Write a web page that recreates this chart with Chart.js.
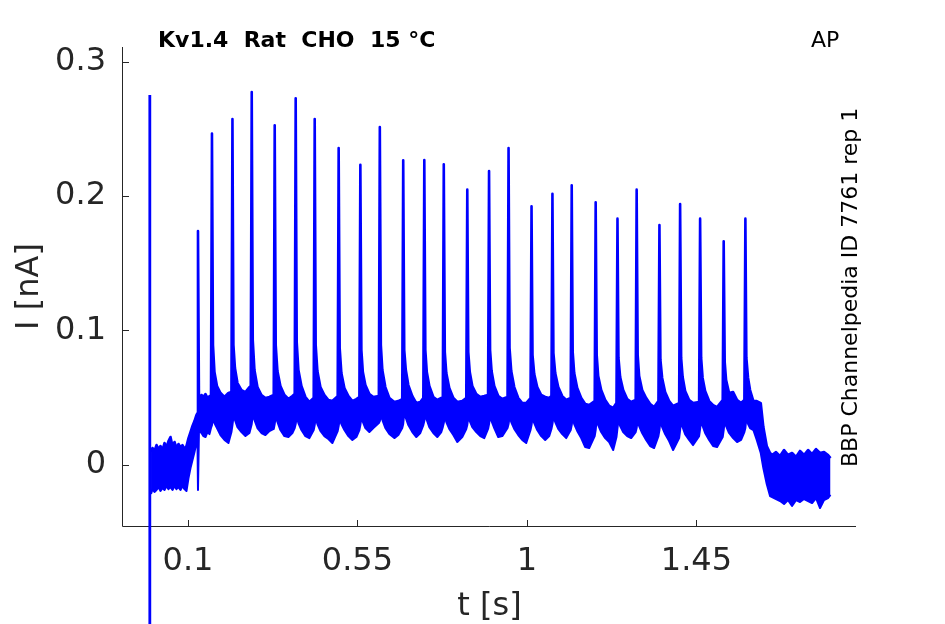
<!DOCTYPE html>
<html><head><meta charset="utf-8">
<script src="https://cdn.jsdelivr.net/npm/chart.js@4.4.1/dist/chart.umd.min.js"></script>
<style>html,body{margin:0;padding:0;background:#fff;} canvas{display:block;}</style>
</head><body>
<canvas id="c" width="945" height="624"></canvas>
<script>
// ---- data ----
const timeS = [
0.0019,0.0058,0.0111,0.0165,0.0218,0.0271,0.0324,0.0377,0.0430,0.0483,0.0536,0.0589,0.0642,0.0695,0.0748,0.0801,0.0854,0.0907,0.0960,
0.1014,0.1067,0.1120,0.1173,0.1226,0.1252,
0.1266,0.1292,0.1358,0.1412,0.1465,0.1518,0.1571,0.1611,
0.1637,0.1664,0.1703,0.1770,0.1863,0.1969,0.2075,0.2154,
0.2181,0.2207,0.2247,0.2314,0.2420,0.2526,0.2632,0.2666,
0.2693,0.2720,0.2765,0.2844,0.2950,0.3056,0.3163,0.3277,
0.3303,0.3330,0.3375,0.3454,0.3561,0.3667,0.3773,0.3834,
0.3860,0.3887,0.3932,0.4012,0.4118,0.4224,0.4338,
0.4365,0.4391,0.4436,0.4516,0.4622,0.4728,0.4834,0.4975,
0.5001,0.5028,0.5073,0.5153,0.5259,0.5365,0.5471,0.5551,
0.5577,0.5604,0.5643,0.5710,0.5816,0.5922,0.6068,
0.6094,0.6121,0.6161,0.6240,0.6346,0.6479,0.6585,0.6689,
0.6715,0.6742,0.6784,0.6851,0.6957,0.7063,0.7169,0.7249,
0.7275,0.7302,0.7341,0.7408,0.7514,0.7620,0.7726,0.7766,
0.7792,0.7819,0.7859,0.7938,0.8045,0.8151,0.8283,0.8389,
0.8416,0.8442,0.8482,0.8549,0.8655,0.8761,0.8867,0.8968,
0.8994,0.9021,0.9061,0.9132,0.9238,0.9345,0.9485,
0.9512,0.9538,0.9583,0.9663,0.9769,0.9875,0.9981,1.0095,
1.0122,1.0148,1.0194,1.0273,1.0379,1.0485,1.0592,1.0650,
1.0677,1.0703,1.0751,1.0831,1.0937,1.1043,1.1162,
1.1189,1.1215,1.1255,1.1335,1.1441,1.1547,1.1653,1.1799,
1.1825,1.1852,1.1892,1.1971,1.2077,1.2183,1.2290,1.2377,
1.2404,1.2430,1.2475,1.2555,1.2661,1.2767,1.2887,
1.2913,1.2940,1.2979,1.3059,1.3165,1.3271,1.3377,1.3491,
1.3518,1.3544,1.3590,1.3669,1.3775,1.3881,1.4041,
1.4067,1.4094,1.4134,1.4200,1.4306,1.4412,1.4571,
1.4598,1.4625,1.4664,1.4731,1.4837,1.4943,1.5049,1.5198,
1.5224,1.5251,1.5288,1.5367,1.5474,1.5580,1.5686,1.5773,
1.5800,1.5826,1.5871,1.5924,1.6012,1.6102,1.6208,1.6277,1.6367,1.6455,
1.6508,1.6614,1.6721,1.6827,1.6933,1.7039,1.7145,1.7251,1.7357,1.7464,1.7570,1.7676,1.7782,1.7888,1.7994,1.8060
];
// upper edge of the noisy current trace (nA)
const upperNA = [
0.0093,0.0123,0.0101,0.0145,0.0115,0.0138,0.0108,0.0160,0.0130,0.0175,0.0205,0.0138,0.0168,0.0123,0.0153,0.0130,0.0145,0.0115,0.0138,
0.0197,0.0242,0.0287,0.0324,0.0369,0.0384,
0.1740,0.0481,0.0518,0.0503,0.0525,0.0496,0.0510,0.0488,
0.2466,0.0890,0.0689,0.0585,0.0533,0.0503,0.0533,0.0540,
0.2575,0.0890,0.0719,0.0607,0.0555,0.0540,0.0577,0.0540,
0.2776,0.0928,0.0704,0.0577,0.0518,0.0496,0.0503,0.0518,
0.2528,0.0890,0.0697,0.0585,0.0518,0.0488,0.0510,0.0525,
0.2729,0.0913,0.0704,0.0585,0.0503,0.0466,0.0496,
0.2575,0.0890,0.0697,0.0577,0.0518,0.0481,0.0473,0.0510,
0.2358,0.0868,0.0682,0.0570,0.0510,0.0473,0.0488,0.0503,
0.2234,0.0853,0.0689,0.0592,0.0525,0.0503,0.0510,
0.2515,0.0890,0.0704,0.0577,0.0496,0.0466,0.0473,0.0488,
0.2267,0.0853,0.0704,0.0592,0.0510,0.0458,0.0466,0.0496,
0.2269,0.0853,0.0689,0.0585,0.0503,0.0481,0.0496,0.0488,
0.2237,0.0838,0.0682,0.0570,0.0496,0.0466,0.0473,0.0496,
0.2048,0.0838,0.0689,0.0585,0.0525,0.0503,0.0510,0.0518,
0.2187,0.0853,0.0697,0.0585,0.0510,0.0488,0.0503,
0.2358,0.0868,0.0697,0.0577,0.0496,0.0458,0.0458,0.0496,
0.1924,0.0816,0.0674,0.0577,0.0518,0.0503,0.0496,0.0510,
0.2018,0.0831,0.0682,0.0577,0.0510,0.0481,0.0496,
0.2080,0.0838,0.0682,0.0570,0.0496,0.0451,0.0443,0.0473,
0.1954,0.0816,0.0659,0.0555,0.0481,0.0436,0.0421,0.0458,
0.1832,0.0794,0.0652,0.0555,0.0488,0.0466,0.0481,
0.2048,0.0816,0.0659,0.0555,0.0496,0.0451,0.0428,0.0473,
0.1785,0.0779,0.0645,0.0540,0.0473,0.0436,0.0458,
0.1941,0.0794,0.0652,0.0548,0.0481,0.0458,0.0466,
0.1832,0.0794,0.0645,0.0548,0.0473,0.0443,0.0428,0.0481,
0.1663,0.0764,0.0630,0.0533,0.0540,0.0481,0.0458,0.0481,
0.1832,0.0794,0.0645,0.0555,0.0473,0.0473,0.0458,0.0279,0.0138,0.0086,
0.0071,0.0093,0.0063,0.0108,0.0071,0.0086,0.0056,0.0101,0.0071,0.0108,0.0078,0.0115,0.0086,0.0093,0.0071,0.0048
];
// lower edge of the noisy current trace (nA)
const lowerNA = [
-0.0220,-0.0183,-0.0205,-0.0190,-0.0168,-0.0197,-0.0175,-0.0190,-0.0160,-0.0183,-0.0168,-0.0190,-0.0160,-0.0183,-0.0168,-0.0190,-0.0160,-0.0183,-0.0197,
-0.0101,-0.0026,0.0034,0.0093,0.0160,0.0197,
-0.0190,0.0257,0.0235,0.0212,0.0205,0.0242,0.0227,0.0272,
0.0294,0.0347,0.0309,0.0272,0.0220,0.0183,0.0160,0.0242,
0.0294,0.0354,0.0332,0.0279,0.0242,0.0212,0.0235,0.0272,
0.0302,0.0369,0.0332,0.0272,0.0235,0.0220,0.0250,0.0265,
0.0302,0.0361,0.0317,0.0257,0.0212,0.0205,0.0235,0.0272,
0.0302,0.0354,0.0309,0.0257,0.0212,0.0197,0.0257,
0.0294,0.0347,0.0302,0.0250,0.0212,0.0190,0.0160,0.0250,
0.0287,0.0339,0.0302,0.0257,0.0212,0.0183,0.0205,0.0257,
0.0294,0.0347,0.0317,0.0272,0.0242,0.0272,0.0309,
0.0324,0.0369,0.0332,0.0272,0.0227,0.0197,0.0220,0.0272,
0.0302,0.0384,0.0347,0.0294,0.0242,0.0205,0.0235,0.0294,
0.0324,0.0376,0.0332,0.0279,0.0235,0.0205,0.0242,0.0279,
0.0309,0.0361,0.0317,0.0265,0.0220,0.0168,0.0205,0.0265,
0.0294,0.0354,0.0324,0.0279,0.0242,0.0212,0.0197,0.0265,
0.0302,0.0361,0.0324,0.0272,0.0205,0.0212,0.0272,
0.0302,0.0354,0.0317,0.0265,0.0220,0.0183,0.0160,0.0257,
0.0294,0.0347,0.0309,0.0257,0.0212,0.0183,0.0212,0.0265,
0.0302,0.0354,0.0317,0.0265,0.0227,0.0197,0.0257,
0.0294,0.0347,0.0302,0.0250,0.0197,0.0130,0.0123,0.0212,
0.0257,0.0339,0.0294,0.0242,0.0197,0.0168,0.0108,0.0205,
0.0272,0.0332,0.0287,0.0242,0.0212,0.0197,0.0242,
0.0272,0.0332,0.0287,0.0235,0.0183,0.0138,0.0123,0.0212,
0.0257,0.0324,0.0279,0.0227,0.0175,0.0108,0.0197,
0.0257,0.0324,0.0279,0.0227,0.0183,0.0145,0.0212,
0.0265,0.0332,0.0287,0.0235,0.0183,0.0138,0.0130,0.0205,
0.0257,0.0332,0.0287,0.0235,0.0197,0.0168,0.0183,0.0242,
0.0272,0.0347,0.0302,0.0272,0.0257,0.0183,0.0086,-0.0026,-0.0145,-0.0235,
-0.0242,-0.0257,-0.0272,-0.0294,-0.0265,-0.0309,-0.0265,-0.0279,-0.0257,-0.0272,-0.0287,-0.0250,-0.0324,-0.0265,-0.0250,-0.0227
];
// stimulus artefact at the start of the sweep
const artifactTimeS = [-0.0013, -0.0013];
const artifactNA = [0.2753, -0.2];

const xTickValues = [0.1, 0.55, 1, 1.45];
const xTickLabels = ['0.1', '0.55', '1', '1.45'];
const yTickValues = [0, 0.1, 0.2, 0.3];
const yTickLabels = ['0', '0.1', '0.2', '0.3'];
const xRange = [-0.0725, 1.8737];
const yRange = [-0.0458, 0.3111];

const titleText = 'Kv1.4  Rat  CHO  15 \u00B0C';
const cornerText = 'AP';
const sideText = 'BBP Channelpedia ID 7761 rep 1';
const xTitle = 't [s]';
const yTitle = 'I [nA]';

// ---- styling ----
const TRACE = '#0000ff';
const AXIS = '#262626';
const FONT = '"DejaVu Sans", "Liberation Sans", sans-serif';
Chart.defaults.font.family = FONT;

if (timeS.length !== upperNA.length || timeS.length !== lowerNA.length) {
  console.error('length mismatch', timeS.length, upperNA.length, lowerNA.length);
}

const upperPts = timeS.map((t, i) => ({x: t, y: upperNA[i]}));
const lowerPts = timeS.map((t, i) => ({x: t, y: lowerNA[i]}));
const artPts = artifactTimeS.map((t, i) => ({x: t, y: artifactNA[i]}));

const decor = {
  id: 'decor',
  beforeDatasetsDraw(chart) {
    const {ctx, chartArea: a, scales: {x, y}} = chart;
    ctx.save();
    ctx.strokeStyle = AXIS;
    ctx.lineWidth = 1;
    ctx.beginPath();
    ctx.moveTo(a.left - 0.5, a.top);
    ctx.lineTo(a.left - 0.5, a.bottom + 0.5);
    ctx.lineTo(a.right, a.bottom + 0.5);
    ctx.stroke();
    ctx.beginPath();
    x.ticks.forEach(tk => {
      const px = Math.round(x.getPixelForValue(tk.value)) + 0.5;
      ctx.moveTo(px, a.bottom + 0.5);
      ctx.lineTo(px, a.bottom - 6);
    });
    y.ticks.forEach(tk => {
      const py = Math.round(y.getPixelForValue(tk.value)) + 0.5;
      ctx.moveTo(a.left - 0.5, py);
      ctx.lineTo(a.left + 6, py);
    });
    ctx.stroke();
    ctx.restore();
  },
  afterDraw(chart) {
    const {ctx, chartArea: a} = chart;
    ctx.save();
    ctx.textBaseline = 'alphabetic';
    // title
    ctx.fillStyle = '#000';
    ctx.font = 'bold 22px ' + FONT;
    ctx.textAlign = 'left';
    ctx.fillText(titleText, 158, 47);
    ctx.font = '22px ' + FONT;
    ctx.fillText(cornerText, 811, 47);
    // side label
    ctx.save();
    ctx.translate(857, 467);
    ctx.rotate(-Math.PI / 2);
    ctx.textAlign = 'left';
    ctx.fillText(sideText, 0, 0);
    ctx.restore();
    // axis titles
    ctx.fillStyle = AXIS;
    ctx.font = '32px ' + FONT;
    ctx.textAlign = 'center';
    ctx.fillText(xTitle, (a.left + a.right) / 2, 615);
    ctx.save();
    ctx.translate(37.5, (a.top + a.bottom) / 2);
    ctx.rotate(-Math.PI / 2);
    ctx.fillText(yTitle, 0, 0);
    ctx.restore();
    ctx.restore();
  }
};

new Chart(document.getElementById('c'), {
  type: 'line',
  data: {
    datasets: [
      {label: 'upper', data: upperPts, borderColor: TRACE, backgroundColor: TRACE, borderWidth: 2.6,
       fill: '+1', pointRadius: 0, tension: 0, borderJoinStyle: 'round'},
      {label: 'lower', data: lowerPts, borderColor: TRACE, backgroundColor: TRACE, borderWidth: 2,
       fill: false, pointRadius: 0, tension: 0, borderJoinStyle: 'round'},
      {label: 'artifact', data: artPts, borderColor: TRACE, borderWidth: 2.8, fill: false,
       pointRadius: 0, clip: false}
    ]
  },
  options: {
    responsive: false,
    devicePixelRatio: 1,
    animation: false,
    events: [],
    layout: {padding: {top: 47, right: 89, left: 0, bottom: 0}},
    plugins: {legend: {display: false}, tooltip: {enabled: false}, title: {display: false}},
    scales: {
      x: {
        type: 'linear', min: xRange[0], max: xRange[1],
        afterBuildTicks: s => { s.ticks = xTickValues.map(v => ({value: v})); },
        afterFit: s => { s.height = 98; },
        grid: {display: false, drawTicks: false},
        border: {display: false},
        ticks: {autoSkip: false, maxRotation: 0, padding: 16, color: AXIS,
                font: {size: 32, family: FONT},
                callback: (v, i) => xTickLabels[i]}
      },
      y: {
        type: 'linear', min: yRange[0], max: yRange[1],
        afterBuildTicks: s => { s.ticks = yTickValues.map(v => ({value: v})); },
        afterFit: s => { s.width = 123; },
        grid: {display: false, drawTicks: false},
        border: {display: false},
        ticks: {autoSkip: false, padding: 17, color: AXIS,
                font: {size: 32, family: FONT},
                callback: (v, i) => yTickLabels[i]}
      }
    }
  },
  plugins: [decor]
});
</script>
</body></html>
